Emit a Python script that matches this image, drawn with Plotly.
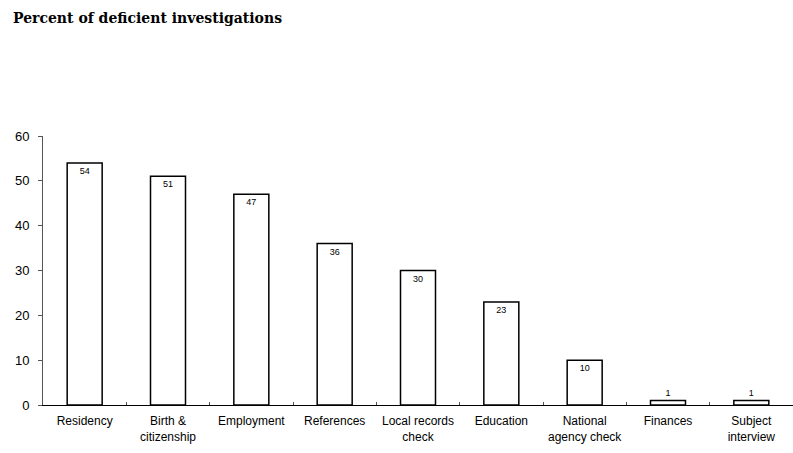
import plotly.graph_objects as go

categories = ["Residency", "Birth & citizenship", "Employment", "References",
              "Local records check", "Education", "National agency check",
              "Finances", "Subject interview"]
tick_labels = ["Residency", "Birth &<br>citizenship", "Employment", "References",
               "Local records<br>check", "Education", "National<br>agency check",
               "Finances", "Subject<br>interview"]
values = [54, 51, 47, 36, 30, 23, 10, 1, 1]
y_ticks = [0, 10, 20, 30, 40, 50, 60]

positions = ["inside" if v >= 5 else "outside" for v in values]

fig = go.Figure(go.Bar(
    x=categories, y=values,
    text=[str(v) for v in values],
    textposition=positions,
    insidetextanchor="end",
    textfont=dict(family="Liberation Sans, Arial, sans-serif", size=9, color="black"),
    constraintext="none",
    cliponaxis=False,
    width=0.42,
    marker=dict(color="white", line=dict(color="black", width=1.5)),
))

fig.update_layout(
    width=793, height=453,
    margin=dict(l=43, r=0, t=136, b=48),
    plot_bgcolor="white", paper_bgcolor="white",
    showlegend=False,
    font=dict(family="Liberation Sans, Arial, sans-serif", color="black"),
    title=dict(text="<b>Percent of deficient investigations</b>",
               x=13/793, xanchor="left", xref="container",
               y=1 - 18/453, yanchor="middle", yref="container",
               font=dict(family="DejaVu Serif, serif", size=14, color="black")),
)
fig.update_xaxes(
    type="category", range=[-0.5, 8.5],
    tickmode="array", tickvals=categories, ticktext=tick_labels,
    tickson="boundaries", ticks="inside", ticklen=3, tickcolor="#555",
    showline=True, linecolor="black", linewidth=1,
    showgrid=False, zeroline=False,
    tickangle=0, automargin=False,
    tickfont=dict(size=12, color="black"),
    ticklabelstandoff=5,
)
fig.update_yaxes(
    range=[0, 60], tickvals=y_ticks,
    ticks="outside", ticklen=4, tickcolor="#555",
    showline=True, linecolor="#555", linewidth=1,
    showgrid=False, zeroline=False, automargin=False,
    tickfont=dict(size=13, color="black"),
    ticklabelstandoff=6,
)

fig.write_html("out.html")
